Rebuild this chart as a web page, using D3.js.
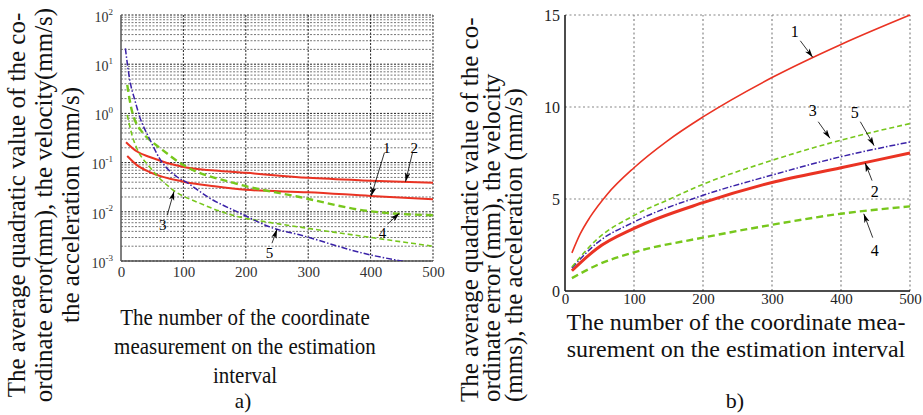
<!DOCTYPE html>
<html>
<head>
<meta charset="utf-8">
<script src="https://cdn.jsdelivr.net/npm/d3@7"></script>
<style>
  body { margin: 0; background: #fff; }
  svg text { font-family: "Liberation Serif", "DejaVu Serif", serif; }
</style>
</head>
<body>
<div id="chart"></div>
<script>
(function () {

    // ---- panel a) : log scale, [n, value] pairs
    const a1 = [[10, 0.136], [25, 0.09], [46, 0.064], [100, 0.041], [150, 0.033], [200, 0.028], [300, 0.025], [400, 0.021], [500, 0.018]]
    const a2 = [[8, 0.26], [25, 0.17], [46, 0.13], [100, 0.081], [150, 0.069], [200, 0.062], [300, 0.049], [400, 0.043], [500, 0.039]]
    const a3 = [[10, 0.93], [18, 0.35], [25, 0.2], [46, 0.081], [83, 0.028], [126, 0.015], [179, 0.0085], [234, 0.0062], [286, 0.0049], [393, 0.0031], [500, 0.002]]
    const a4 = [[10, 3.8], [17, 1.2], [35, 0.4], [46, 0.29], [62, 0.2], [100, 0.089], [179, 0.039], [286, 0.02], [393, 0.0105], [500, 0.0085]]
    const a5 = [[7, 21], [14, 4.8], [22, 1.9], [30, 0.85], [46, 0.3], [62, 0.12], [90, 0.051], [106, 0.039], [142, 0.019], [190, 0.0095], [243, 0.0047], [286, 0.0034], [392, 0.0014], [462, 0.00093], [500, 0.00075]]

    // ---- panel b) : linear scale
    const b1 = [[10, 2.07], [22, 3.1], [36, 4.0], [61, 5.25], [100, 6.7], [148, 8.15], [200, 9.46], [300, 11.6], [400, 13.4], [500, 15.0]]
    const b2 = [[10, 1.1], [46, 2.3], [100, 3.4], [200, 4.8], [300, 5.9], [400, 6.7], [500, 7.5]]
    const b3 = [[10, 1.3], [46, 2.8], [100, 4.1], [152, 5.0], [200, 5.8], [300, 7.1], [400, 8.2], [500, 9.1]]
    const b4 = [[10, 0.7], [46, 1.4], [100, 2.1], [200, 2.9], [300, 3.6], [400, 4.2], [500, 4.6]]
    const b5 = [[10, 1.25], [46, 2.6], [100, 3.75], [200, 5.2], [300, 6.3], [400, 7.3], [500, 8.1]]

    const xTicks = [0, 100, 200, 300, 400, 500]
    const aDecades = [-3, -2, -1, 0, 1, 2]
    const bTicks = [0, 5, 10, 15]

    // curve number labels: [text, labelX, labelY, fromX, fromY, tipX, tipY] in data units
    const aNotes = [
        ["1", 426, 0.2, 422, 0.157, 401, 0.021],
        ["2", 470, 0.2, 467, 0.157, 456, 0.041],
        ["3", 67, 0.0054, 74, 0.0085, 85, 0.026],
        ["4", 419, 0.0037, 427, 0.0056, 446, 0.0093],
        ["5", 238, 0.00145, 242, 0.0023, 250, 0.0044]
    ]
    const bNotes = [
        ["1", 333, 14.1, 341, 13.6, 359, 12.7],
        ["3", 359, 9.8, 367, 9.2, 384, 8.3],
        ["5", 420, 9.7, 428, 9.2, 448, 7.9],
        ["2", 449, 5.4, 445, 6.0, 435, 6.96],
        ["4", 449, 2.2, 446, 2.9, 433, 4.2]
    ]

    const aTitle = ["The number of the coordinate", "measurement on the estimation", "interval"]
    const bTitle = ["The number of the coordinate mea-", "surement on the estimation interval"]
    const aYLabel = ["The average  quadratic value of the co-", "ordinate error(mm), the velocity(mm/s)", "the acceleration (mm/s)"]
    const bYLabel = ["The average quadratic value  of the co-", "ordinate error (mm), the velocity", "(mms), the acceleration (mm/s)"]

    const RED = "#ea3323", GREEN = "#77c71c", BLUE = "#3a22a8"
    const styles = {
        1: { c: RED, w: 2, d: null },
        2: { c: RED, w: 2, d: null },
        3: { c: GREEN, w: 1.6, d: "5,3" },
        4: { c: GREEN, w: 2.4, d: "7,4" },
        5: { c: BLUE, w: 1.5, d: "6,2,1.5,2" }
    }
    const bStyles = Object.assign({}, styles, { 1: { c: RED, w: 1.6, d: null }, 2: { c: RED, w: 3, d: null } })

    const width = 923, height = 415

    const svg = d3.select("#chart").append("svg")
        .attr("width", width).attr("height", height)

    const defs = svg.append("defs")
    defs.append("marker")
        .attr("id", "arr")
        .attr("viewBox", "0 0 10 6")
        .attr("refX", 10).attr("refY", 3)
        .attr("markerWidth", 9).attr("markerHeight", 6)
        .attr("markerUnits", "userSpaceOnUse")
        .attr("orient", "auto")
        .append("path").attr("d", "M0,0 L10,3 L0,6 L2.5,3 z").attr("fill", "#000")

    // ================= panel a =================
    const ax = d3.scaleLinear().domain([0, 500]).range([121, 433])
    const ay = d3.scaleLog().domain([1e-3, 1e2]).range([261, 15])

    defs.append("clipPath").attr("id", "clipA").append("rect")
        .attr("x", ax(0)).attr("y", ay(1e2)).attr("width", ax(500) - ax(0)).attr("height", ay(1e-3) - ay(1e2))

    const minor = []
    aDecades.slice(0, -1).forEach(e => { for (let k = 2; k <= 9; k++) minor.push(k * Math.pow(10, e)) })

    const gA = svg.append("g")
    gA.append("g").selectAll("line").data(minor).join("line")
        .attr("x1", ax(0)).attr("x2", ax(500))
        .attr("y1", d => ay(d)).attr("y2", d => ay(d))
        .attr("stroke", "#777").attr("stroke-width", 1).attr("stroke-dasharray", "2,1.5")
    gA.append("g").selectAll("line").data(aDecades.map(e => Math.pow(10, e))).join("line")
        .attr("x1", ax(0)).attr("x2", ax(500))
        .attr("y1", d => ay(d)).attr("y2", d => ay(d))
        .attr("stroke", "#222").attr("stroke-width", 1).attr("stroke-dasharray", "2,1.5")
    gA.append("g").selectAll("line").data(xTicks.slice(1)).join("line")
        .attr("x1", d => ax(d)).attr("x2", d => ax(d))
        .attr("y1", ay(1e2)).attr("y2", ay(1e-3))
        .attr("stroke", "#222").attr("stroke-width", 1).attr("stroke-dasharray", "2,1.5")

    // axes
    gA.append("line").attr("x1", ax(0)).attr("x2", ax(0)).attr("y1", ay(1e2)).attr("y2", ay(1e-3))
        .attr("stroke", "#555").attr("stroke-width", 1.5)
    gA.append("line").attr("x1", ax(0)).attr("x2", ax(500)).attr("y1", ay(1e-3)).attr("y2", ay(1e-3))
        .attr("stroke", "#555").attr("stroke-width", 1.5)

    const axA = gA.append("g").attr("transform", `translate(0,${ay(1e-3)})`)
        .call(d3.axisBottom(ax).tickValues(xTicks).tickSize(0).tickPadding(5))
    axA.select(".domain").remove()
    axA.selectAll("text").attr("font-size", 15).attr("font-family", "Liberation Serif").attr("fill", "#333")

    const ayA = gA.append("g").attr("transform", `translate(${ax(0)},0)`)
        .call(d3.axisLeft(ay).tickValues(aDecades.map(e => Math.pow(10, e))).tickSize(0).tickPadding(8).tickFormat(""))
    ayA.select(".domain").remove()
    ayA.selectAll("text").each(function (d) {
        const t = d3.select(this).attr("font-size", 14).attr("font-family", "Liberation Serif").attr("fill", "#333")
            .attr("dy", "0.45em")
        t.append("tspan").text("10")
        t.append("tspan").attr("font-size", 9).attr("dy", "-0.8em").text(Math.round(Math.log10(d)))
    })

    const lineA = d3.line().x(d => ax(d[0])).y(d => ay(d[1])).curve(d3.curveMonotoneX)
    const aSeries = [[a1, 1], [a2, 2], [a3, 3], [a4, 4], [a5, 5]]
    gA.append("g").attr("clip-path", "url(#clipA)").selectAll("path").data(aSeries).join("path")
        .attr("d", d => lineA(d[0]))
        .attr("fill", "none")
        .attr("stroke", d => styles[d[1]].c)
        .attr("stroke-width", d => styles[d[1]].w)
        .attr("stroke-dasharray", d => styles[d[1]].d)

    const notesA = gA.append("g")
    notesA.selectAll("line").data(aNotes).join("line")
        .attr("x1", d => ax(d[3])).attr("y1", d => ay(d[4]))
        .attr("x2", d => ax(d[5])).attr("y2", d => ay(d[6]))
        .attr("stroke", "#000").attr("stroke-width", 0.8).attr("marker-end", "url(#arr)")
    notesA.selectAll("text").data(aNotes).join("text")
        .attr("x", d => ax(d[1])).attr("y", d => ay(d[2]))
        .attr("text-anchor", "middle").attr("dy", "0.35em")
        .attr("font-size", 15).text(d => d[0])

    // ================= panel b =================
    const bx = d3.scaleLinear().domain([0, 500]).range([565, 910])
    const by = d3.scaleLinear().domain([0, 15]).range([291, 15])

    const gB = svg.append("g")
    gB.append("g").selectAll("line").data(xTicks.slice(1)).join("line")
        .attr("x1", d => bx(d)).attr("x2", d => bx(d)).attr("y1", by(0)).attr("y2", by(15))
        .attr("stroke", "#888").attr("stroke-width", 1.2).attr("stroke-dasharray", "2,2.5")
    gB.append("g").selectAll("line").data(bTicks.slice(1)).join("line")
        .attr("x1", bx(0)).attr("x2", bx(500)).attr("y1", d => by(d)).attr("y2", d => by(d))
        .attr("stroke", "#888").attr("stroke-width", 1.2).attr("stroke-dasharray", "2,2.5")

    gB.append("line").attr("x1", bx(0)).attr("x2", bx(0)).attr("y1", by(15)).attr("y2", by(0))
        .attr("stroke", "#111").attr("stroke-width", 1.5)
    gB.append("line").attr("x1", bx(0)).attr("x2", bx(500)).attr("y1", by(0)).attr("y2", by(0))
        .attr("stroke", "#111").attr("stroke-width", 1.5)

    const bxA = gB.append("g").attr("transform", `translate(0,${by(0)})`)
        .call(d3.axisBottom(bx).tickValues(xTicks).tickSize(0).tickPadding(2))
    bxA.select(".domain").remove()
    bxA.selectAll("text").attr("font-size", 15).attr("font-family", "Liberation Serif").attr("fill", "#222")

    const byA = gB.append("g").attr("transform", `translate(${bx(0)},0)`)
        .call(d3.axisLeft(by).tickValues(bTicks).tickSize(0).tickPadding(5))
    byA.select(".domain").remove()
    byA.selectAll("text").attr("font-size", 16).attr("font-family", "Liberation Serif").attr("fill", "#222")

    const lineB = d3.line().x(d => bx(d[0])).y(d => by(d[1])).curve(d3.curveMonotoneX)
    const bSeries = [[b4, 4], [b2, 2], [b5, 5], [b3, 3], [b1, 1]]
    gB.append("g").selectAll("path").data(bSeries).join("path")
        .attr("d", d => lineB(d[0]))
        .attr("fill", "none")
        .attr("stroke", d => bStyles[d[1]].c)
        .attr("stroke-width", d => bStyles[d[1]].w)
        .attr("stroke-dasharray", d => bStyles[d[1]].d)

    const notesB = gB.append("g")
    notesB.selectAll("line").data(bNotes).join("line")
        .attr("x1", d => bx(d[3])).attr("y1", d => by(d[4]))
        .attr("x2", d => bx(d[5])).attr("y2", d => by(d[6]))
        .attr("stroke", "#000").attr("stroke-width", 0.8).attr("marker-end", "url(#arr)")
    notesB.selectAll("text").data(bNotes).join("text")
        .attr("x", d => bx(d[1])).attr("y", d => by(d[2]))
        .attr("text-anchor", "middle").attr("dy", "0.35em")
        .attr("font-size", 16).text(d => d[0])

    // ================= titles =================
    svg.append("g").selectAll("text").data(aTitle).join("text")
        .attr("transform", (d, i) => `translate(245,${325 + i * 29}) scale(1.05,1.12)`)
        .attr("text-anchor", "middle").attr("font-size", 20).attr("fill", "#111").text(d => d)
    svg.append("text").attr("transform", "translate(243,408) scale(1.05,1.1)").attr("text-anchor", "middle")
        .attr("font-size", 20).attr("fill", "#111").text("a)")

    svg.append("g").selectAll("text").data(bTitle).join("text")
        .attr("transform", (d, i) => `translate(736,${330 + i * 27}) scale(1.2,1.12)`)
        .attr("text-anchor", "middle").attr("font-size", 20).attr("fill", "#111").text(d => d)
    svg.append("text").attr("transform", "translate(735,408) scale(1.1,1.1)").attr("text-anchor", "middle")
        .attr("font-size", 20).attr("fill", "#111").text("b)")

    // rotated axis labels
    svg.append("g").selectAll("text").data(aYLabel).join("text")
        .attr("transform", (d, i) => `translate(${25 + i * 27},205) rotate(-90)`)
        .attr("text-anchor", "middle").attr("font-family", "Liberation Serif")
        .attr("font-size", 25).attr("fill", "#111").text(d => d)

    svg.append("g").selectAll("text").data(bYLabel).join("text")
        .attr("transform", (d, i) => `translate(${478 + i * 22},402) rotate(-90)`)
        .attr("text-anchor", "start").attr("font-family", "Liberation Serif")
        .attr("font-size", 25).attr("fill", "#111").text(d => d)

})()
</script>
</body>
</html>
